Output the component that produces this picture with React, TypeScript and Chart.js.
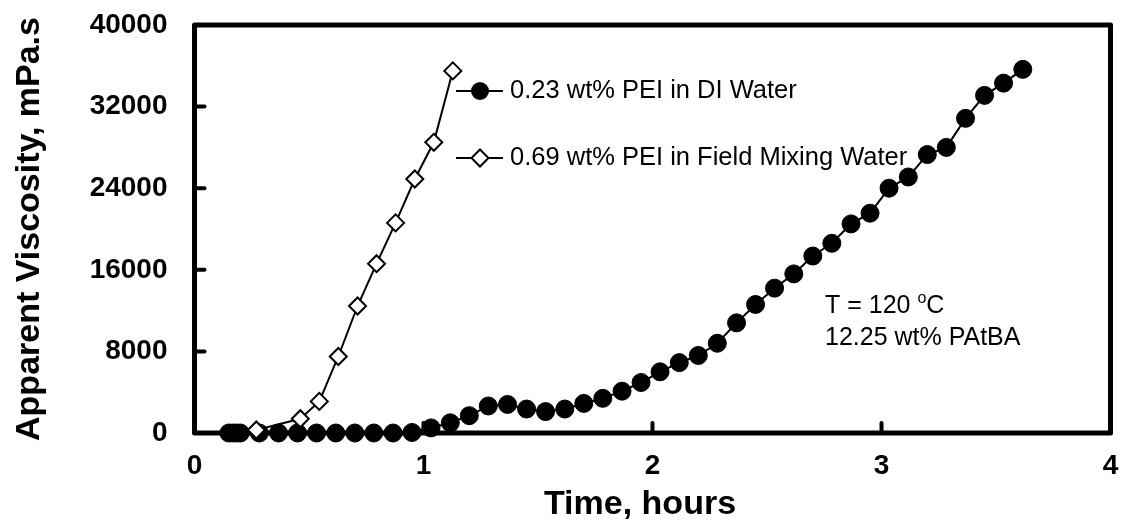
import React, { useEffect, useRef } from "react";
import { Chart, registerables } from "chart.js";

Chart.register(...registerables);

// ---- data ----
const seriesLabels = ["0.23 wt% PEI in DI Water", "0.69 wt% PEI in Field Mixing Water"];

// 0.23 wt% PEI in DI Water (filled circles)
const timeDI = [
  0.15, 0.167, 0.183, 0.2, 0.283, 0.367, 0.45, 0.533, 0.617, 0.7, 0.783, 0.867, 0.95,
  1.033, 1.117, 1.2, 1.283, 1.367, 1.45, 1.533, 1.617, 1.7, 1.783, 1.867, 1.95,
  2.033, 2.117, 2.2, 2.283, 2.367, 2.45, 2.533, 2.617, 2.7, 2.783, 2.867, 2.95,
  3.033, 3.117, 3.2, 3.283, 3.367, 3.45, 3.533, 3.617,
];
const viscDI = [
  0, 0, 0, 0, 0, 0, 0, 0, 0, 0, 0, 0, 50,
  500, 1000, 1700, 2650, 2800, 2350, 2100, 2350, 2900, 3400, 4100, 4950,
  6000, 6900, 7600, 8800, 10800, 12600, 14200, 15600, 17350, 18600, 20500, 21550,
  24000, 25100, 27300, 28000, 30850, 33100, 34300, 35650,
];

// 0.69 wt% PEI in Field Mixing Water (open diamonds)
const timeField = [0.27, 0.462, 0.545, 0.628, 0.712, 0.795, 0.878, 0.962, 1.045, 1.128];
const viscField = [300, 1400, 3100, 7500, 12450, 16600, 20600, 24900, 28500, 35500];

const xMin = 0, xMax = 4, xStep = 1;
const yMin = 0, yMax = 40000, yStep = 8000;
const xTitle = "Time, hours";
const yTitle = "Apparent Viscosity, mPa.s";
const noteLine1 = ["T = 120 ", "o", "C"];
const noteLine2 = "12.25 wt% PAtBA";

const FONT = "'Liberation Sans', Arial, Helvetica, sans-serif";

const framePlugin = {
  id: "frameAndDecor",
  beforeDatasetsDraw(chart: any) {
    const { ctx, chartArea: a, scales } = chart;
    ctx.save();
    ctx.strokeStyle = "#000";
    ctx.lineWidth = 5;
    ctx.lineJoin = "round";
    ctx.strokeRect(a.left, a.top, a.right - a.left, a.bottom - a.top);
    // inward tick marks
    ctx.lineWidth = 4;
    ctx.lineCap = "round";
    for (let v = yMin + yStep; v < yMax; v += yStep) {
      const py = scales.y.getPixelForValue(v);
      ctx.beginPath();
      ctx.moveTo(a.left, py);
      ctx.lineTo(a.left + 10, py);
      ctx.stroke();
    }
    for (let v = xMin + xStep; v < xMax; v += xStep) {
      const px = scales.x.getPixelForValue(v);
      ctx.beginPath();
      ctx.moveTo(px, a.bottom);
      ctx.lineTo(px, a.bottom - 10);
      ctx.stroke();
    }
    ctx.restore();
  },
  afterDatasetsDraw(chart: any) {
    const { ctx } = chart;
    ctx.save();
    ctx.fillStyle = "#000";
    ctx.strokeStyle = "#000";
    // x axis title
    ctx.font = `bold 34px ${FONT}`;
    ctx.textAlign = "center";
    ctx.textBaseline = "alphabetic";
    ctx.fillText(xTitle, 640, 514);

    // legend
    const lx0 = 456, lx1 = 503, mx = 480, tx = 510;
    const rows = [91, 158];
    ctx.lineWidth = 2;
    rows.forEach((ry, i) => {
      ctx.beginPath();
      ctx.moveTo(lx0, ry);
      ctx.lineTo(lx1, ry);
      ctx.stroke();
      if (i === 0) {
        ctx.beginPath();
        ctx.arc(mx, ry, 9, 0, Math.PI * 2);
        ctx.fillStyle = "#000";
        ctx.fill();
      } else {
        const r = 8.5;
        ctx.beginPath();
        ctx.moveTo(mx - r, ry);
        ctx.lineTo(mx, ry - r);
        ctx.lineTo(mx + r, ry);
        ctx.lineTo(mx, ry + r);
        ctx.closePath();
        ctx.fillStyle = "#fff";
        ctx.fill();
        ctx.stroke();
      }
      ctx.fillStyle = "#000";
      ctx.font = `25.5px ${FONT}`;
      ctx.textAlign = "left";
      ctx.textBaseline = "alphabetic";
      ctx.fillText(seriesLabels[i], tx, ry + 7);
    });

    // annotation
    ctx.font = `25px ${FONT}`;
    ctx.textAlign = "left";
    let x = 825;
    ctx.fillText(noteLine1[0], x, 313);
    x += ctx.measureText(noteLine1[0]).width;
    ctx.font = `16px ${FONT}`;
    ctx.fillText(noteLine1[1], x, 303);
    x += ctx.measureText(noteLine1[1]).width;
    ctx.font = `25px ${FONT}`;
    ctx.fillText(noteLine1[2], x, 313);
    ctx.fillText(noteLine2, 825, 345);
    ctx.restore();
  },
};

export default function App() {
  const ref = useRef<HTMLCanvasElement | null>(null);
  useEffect(() => {
    if (!ref.current) return;
    const chart = new Chart(ref.current, {
      type: "scatter",
      data: {
        datasets: [
          {
            label: seriesLabels[1],
            data: timeField.map((t, i) => ({ x: t, y: viscField[i] })),
            showLine: true,
            borderColor: "#000",
            borderWidth: 2,
            pointStyle: "rectRot",
            pointRadius: 8.5,
            pointHoverRadius: 8.5,
            pointBackgroundColor: "#fff",
            pointBorderColor: "#000",
            pointBorderWidth: 2,
            tension: 0,
            clip: false,
          },
          {
            label: seriesLabels[0],
            data: timeDI.map((t, i) => ({ x: t, y: viscDI[i] })),
            showLine: true,
            borderColor: "#000",
            borderWidth: 2,
            pointStyle: "circle",
            pointRadius: 9,
            pointHoverRadius: 9,
            pointBackgroundColor: "#000",
            pointBorderColor: "#000",
            pointBorderWidth: 1,
            tension: 0,
            clip: false,
          },
        ],
      },
      options: {
        animation: false,
        responsive: false,
        events: [],
        layout: { padding: { top: 25, right: 9.5, left: 0, bottom: 0 } },
        plugins: { legend: { display: false }, tooltip: { enabled: false } },
        scales: {
          x: {
            type: "linear",
            min: xMin,
            max: xMax,
            grid: { display: false, drawTicks: false },
            border: { display: false },
            ticks: {
              stepSize: xStep,
              padding: 16,
              color: "#000",
              font: { family: FONT, size: 28, weight: "bold" },
              maxRotation: 0,
            },
            afterFit: (s: any) => {
              s.height = 92;
              s.paddingLeft = 0;
              s.paddingRight = 0;
            },
          },
          y: {
            type: "linear",
            min: yMin,
            max: yMax,
            grid: { display: false, drawTicks: false },
            border: { display: false },
            ticks: {
              stepSize: yStep,
              padding: 27,
              color: "#000",
              font: { family: FONT, size: 28, weight: "bold" },
              callback: (v: any) => String(v),
            },
            title: {
              display: true,
              text: yTitle,
              color: "#000",
              font: { family: FONT, size: 34, weight: "bold" },
              padding: { top: 9, bottom: 0 },
            },
            afterFit: (s: any) => {
              s.width = 194.5;
              s.paddingTop = 0;
              s.paddingBottom = 0;
            },
          },
        },
      },
      plugins: [framePlugin],
    } as any);
    return () => chart.destroy();
  }, []);
  return (
    <div style={{ position: "fixed", left: 0, top: 0, width: 1121, height: 525, background: "#fff" }}>
      <canvas ref={ref} width={1121} height={525} style={{ display: "block" }} />
    </div>
  );
}
